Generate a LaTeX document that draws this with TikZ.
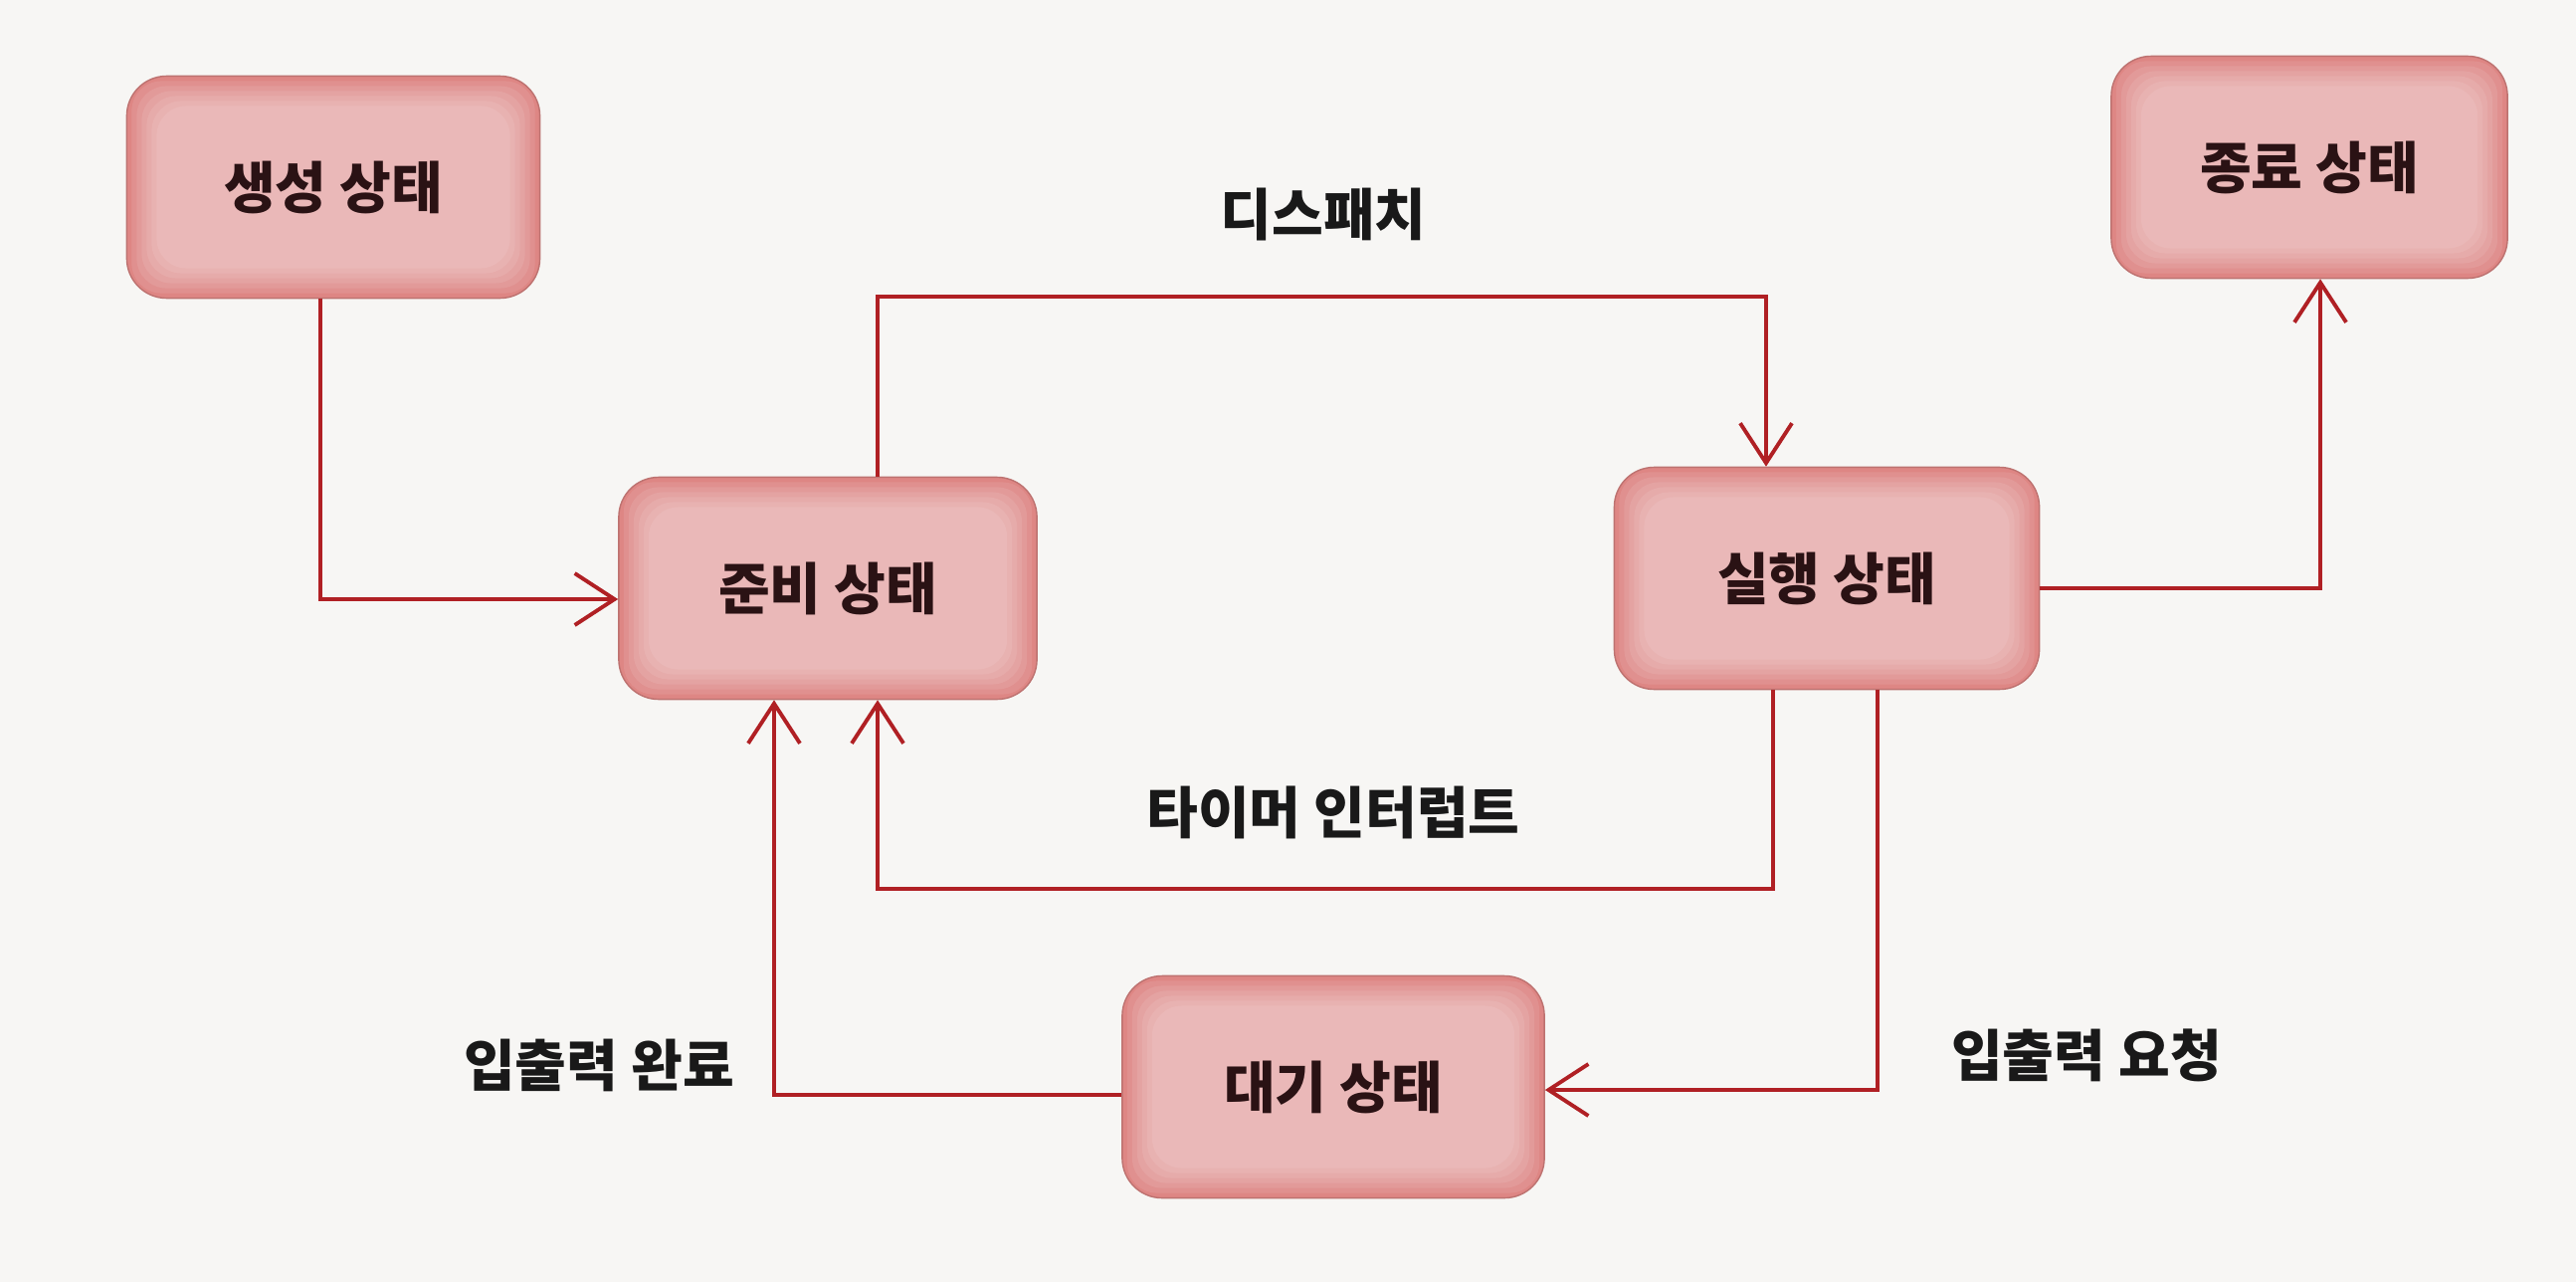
\documentclass[tikz,border=0pt]{standalone}
\usepackage{fontspec}
\setmainfont{Noto Sans CJK KR}
\usetikzlibrary{arrows.meta}
\definecolor{linered}{RGB}{176,32,36}
\definecolor{boxedge}{RGB}{222,134,132}
\definecolor{paper}{RGB}{247,246,244}
\definecolor{boxink}{RGB}{42,18,20}
\tikzset{
  statebox/.style = {rounded corners=0.4cm, fill=boxedge, draw=boxedge!85!black,
    line width=0.4pt, minimum height=2.23cm, text=boxink,
    font=\bfseries\fontsize{16}{18}\selectfont,
    path picture={\foreach \k in {1,...,6}{%
      \fill[white, opacity=0.09, rounded corners=0.3cm]
        ([shift={(\k*0.05cm,-\k*0.05cm)}]path picture bounding box.north west) rectangle
        ([shift={(-\k*0.05cm,\k*0.05cm)}]path picture bounding box.south east);}}},% state box
  trans/.style = {text=black!90, font=\bfseries\fontsize{16}{18}\selectfont},% transition label
  flow/.style = {draw=linered, line width=1.1pt,
    -{Straight Barb[length=4mm,width=5.2mm,line width=1.1pt]}}% connector
}
\begin{document}
\begin{tikzpicture}[x=0.01cm, y=-0.01cm]
    \fill[paper] (0,0) rectangle (2589,1288);
    % states
    \node [statebox, minimum width=4.15cm] (gen)   at (335,188)  {생성 상태};
    \node [statebox, minimum width=3.98cm] (term)  at (2321,168) {종료 상태};
    \node [statebox, minimum width=4.2cm]  (ready) at (832,591)  {준비 상태};
    \node [statebox, minimum width=4.27cm] (run)   at (1836,581) {실행 상태};
    \node [statebox, minimum width=4.24cm] (wait)  at (1340,1092) {대기 상태};
    % corners of the long connectors
    \coordinate (dispTop)  at (1330,298);
    \coordinate (timerLow) at (1340,893);
    % transitions
    \draw [flow] ([xshift=-1.3mm]gen.south) |- ([yshift=-1.1mm]ready.west);
    \draw [flow] ([xshift=5mm]ready.north) |- (dispTop) -| ([xshift=-6.1mm]run.north);
    \draw [flow] ([yshift=-1mm]run.east) -| ([xshift=1.1mm]term.south);
    \draw [flow] ([xshift=-5.4mm]run.south) |- (timerLow) -| ([xshift=5mm]ready.south);
    \draw [flow] ([xshift=5.1mm]run.south) |- ([yshift=-0.3mm]wait.east);
    \draw [flow] ([yshift=-0.8mm]wait.west) -| ([xshift=-5.4mm]ready.south);
    % labels
    \node [trans] (dispatch) at (1330,216)  {디스패치};
    \node [trans] (timer)    at (1340,816)  {타이머 인터럽트};
    \node [trans] (iodone)   at (602,1070)  {입출력 완료};
    \node [trans] (ioreq)    at (2097,1060) {입출력 요청};
\end{tikzpicture}
\end{document}
